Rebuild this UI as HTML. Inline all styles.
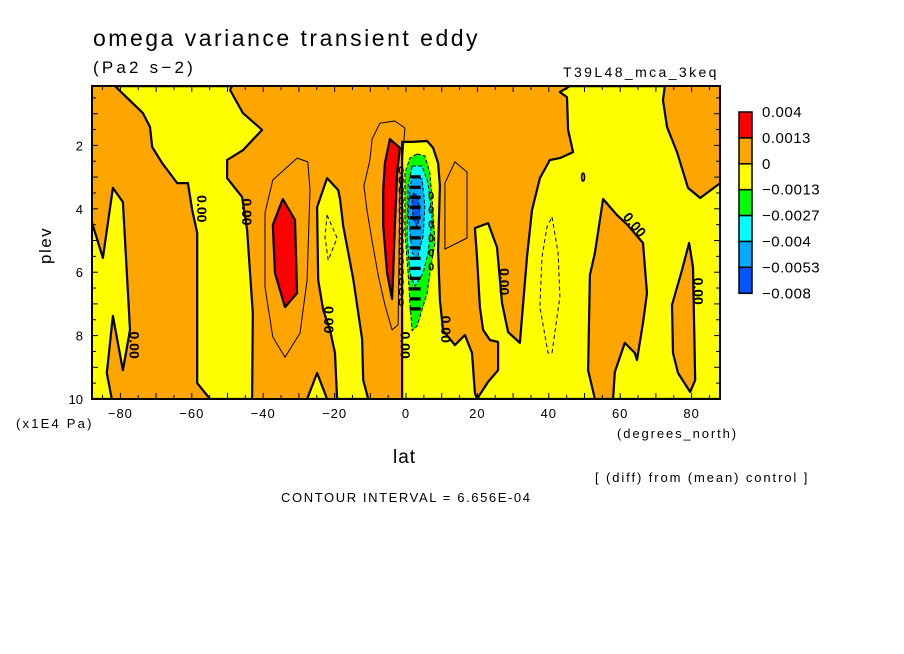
<!DOCTYPE html>
<html><head><meta charset="utf-8">
<style>
html,body{margin:0;padding:0;background:#fff;}
svg{display:block;font-family:"Liberation Sans",sans-serif;}
</style></head>
<body>
<svg id="chart" width="904" height="654" viewBox="0 0 904 654" xmlns="http://www.w3.org/2000/svg">
<text x="93" y="46" font-size="23" letter-spacing="2.5">omega variance transient eddy</text>
<text x="93" y="73" font-size="17" letter-spacing="3.2">(Pa2 s−2)</text>
<text x="563" y="77" font-size="14" letter-spacing="2.4">T39L48_mca_3keq</text>
<g id="plot"></g>
<g id="legend"></g>
<text x="393" y="463" font-size="19" letter-spacing="1">lat</text>
<text transform="translate(51,264) rotate(-90)" font-size="17" letter-spacing="1.5">plev</text>
<text x="16" y="428" font-size="13" letter-spacing="2.2">(x1E4 Pa)</text>
<text x="617" y="438" font-size="13" letter-spacing="1.9">(degrees_north)</text>
<text x="595" y="482" font-size="13" letter-spacing="1.9">[ (diff) from (mean) control ]</text>
<text x="281" y="502" font-size="13" letter-spacing="1.6">CONTOUR INTERVAL = 6.656E-04</text>
</svg>
<script>
const xTicks=[-80,-60,-40,-20,0,20,40,60,80];
const yTicks=[2,4,6,8,10];
const legendLevels=["0.004","0.0013","0","−0.0013","−0.0027","−0.004","−0.0053","−0.008"];
const legendColors=["#ff0000","#ffa500","#ffff00","#00ff00","#00ffff","#00aaff","#0055ff"];
// contour regions in (lat, plev)
const yellowA=[[-81.5,0.13],[-73.7,0.98],[-71.7,1.42],[-71.1,2.05],[-68.3,2.56],[-64.1,3.19],[-61.1,3.19],[-59.9,4.04],[-58.5,4.76],[-58.5,9.5],[-54.9,10],[-43.1,10],[-42.9,7.29],[-44.5,4.67],[-45.9,3.63],[-50.1,3.03],[-50.1,2.46],[-45.7,2.15],[-40.3,1.51],[-45.7,0.98],[-49.3,0.25],[-48.7,0.13]];
const yellowB=[[-88,4.42],[-84.9,5.55],[-82.1,3.34],[-79.3,3.79],[-77.3,7.82],[-79.3,9.09],[-82.1,7.38],[-83.8,9.18],[-82.4,10],[-88,10]];
const yellowTri=[[-27.7,10],[-24.9,9.18],[-22.1,10]];
const yellowC=[[-22.1,3.03],[-19,3.41],[-18.5,3.69],[-17.6,4.54],[-14.8,6.21],[-12.3,8.11],[-12,9.4],[-10.6,10],[-19.3,10],[-19.9,8.55],[-21.3,7.82],[-23.2,7.19],[-24.6,6.25],[-24.9,3.95]];
const yellowD=[[-1.1,1.89],[1.7,1.89],[5.9,1.86],[7.6,2.08],[9,2.56],[9.5,3.28],[9,5.3],[9.5,6.88],[10.4,7.85],[13.7,8.3],[16.5,7.98],[18.5,8.55],[19.3,9.81],[19.9,10],[23,9.46],[25.8,9.09],[25.8,8.2],[23.5,8.14],[21.6,7.82],[20.7,7.1],[19.9,5.52],[19.3,4.61],[23,4.45],[25.5,5.21],[26.9,6.97],[28.6,7.89],[31.9,8.23],[33.9,5.52],[35.3,4.04],[37.5,3.03],[40.3,2.46],[43.1,2.4],[46.8,2.21],[45.4,1.51],[45.1,0.48],[43.1,0.32],[45.9,0.13],[72.5,0.13],[72,0.57],[73.1,1.42],[75.9,2.21],[79,3.34],[82.4,3.66],[88,3.19],[88,10],[-1.1,10]];
const orange60=[[55.2,3.69],[59.1,4.2],[62,4.5],[66.4,5.08],[67.5,6.66],[66.4,7.6],[64.7,8.77],[64.1,8.55],[61.3,8.23],[58.5,9.15],[58,10],[52.9,10],[51,9.09],[51.5,6.09],[52.9,5.39]];
const orange80=[[79.3,5.08],[80.4,5.84],[81,9.4],[79.6,9.78],[76.2,9.18],[74.8,8.55],[74.5,7.03],[77.3,5.93]];
const dashed40=[[40.9,4.26],[42.6,5.39],[43.1,6.78],[40.9,8.55],[39.8,8.55],[37.5,7.1],[38.1,5.52],[39.5,4.57]];
const redLeft=[[-34.5,3.69],[-31.1,4.35],[-30.5,6.66],[-33.9,7.1],[-36.7,6.03],[-37.3,4.51]];
const thinLeft=[[-30.5,2.4],[-27.5,2.52],[-26.9,3.41],[-27.7,6.25],[-29.7,7.92],[-33.9,8.68],[-37.3,8.04],[-39.5,6.47],[-39.5,4.13],[-37.3,3.09]];
const dashedM20=[[-22.1,4.2],[-19.3,4.92],[-21.8,5.62],[-22.7,4.89]];
const redCenter=[[-4.5,1.8],[-1.7,2.08],[-2.5,2.87],[-3.1,4.51],[-3.6,6.09],[-3.9,6.85],[-5.3,6.03],[-6.4,4.54],[-6.4,3.41],[-5.9,2.56]];
const thinCenter=[[-0.3,1.45],[-3.1,1.23],[-7.3,1.3],[-9.5,1.8],[-10.1,2.46],[-11.8,3.28],[-10.9,4.07],[-9.5,5.02],[-7.8,6.09],[-5.9,7.03],[-3.9,7.82],[-2.2,7.66],[-1.7,3.5]];
const thinRight=[[13.7,2.52],[17.1,2.84],[17.1,4.92],[14.3,5.08],[10.9,5.27],[10.9,3.19]];
const greenR=[[3.1,2.27],[5.3,2.33],[6.7,2.87],[7.6,4.13],[8.1,5.08],[6.7,6.03],[5.9,6.66],[3.1,7.7],[1.7,7.85],[1.1,6.97],[0.6,6.03],[-0.3,4.76],[-0.3,2.87],[1.1,2.4]];
const cyanR=[[1.7,2.65],[4.5,2.65],[6.2,3.19],[7.3,4.32],[6.2,5.39],[4.8,6.03],[2.5,6.44],[1.1,6.03],[0.3,4.86],[0.6,3.28]];
const blueR=[[2,2.97],[4.5,3.06],[5.3,3.91],[4.8,4.86],[3.1,5.59],[1.7,5.39],[0.6,4.13],[1.1,3.28]];
const dblueR=[[2,3.5],[3.4,3.6],[3.9,4.23],[3.1,4.55],[2,4.32],[1.7,3.82]];
const labelPos=[[-58.6,4.0,90],[-45.9,4.1,90],[-77.5,8.3,90],[-23,7.5,90],[26.2,6.3,90],[63,4.6,50],[80.5,6.6,90],[-1.5,8.3,90],[9.8,7.8,90]];

const NS="http://www.w3.org/2000/svg";
const L=92,R=720,T=86,B=399;
function x(lat){return 406+lat*3.57;}
function y(p){return B-(10-p)*31.7;}
const plot=document.getElementById('plot');
function mk(tag,attrs,parent){const e=document.createElementNS(NS,tag);for(const k in attrs)e.setAttribute(k,attrs[k]);(parent||plot).appendChild(e);return e;}
function pts(a){return a.map(p=>x(p[0]).toFixed(1)+','+y(p[1]).toFixed(1)).join(' ');}
function poly(a,fill,sw,dash,name){
  const e=mk('polygon',{points:pts(a),fill:fill,stroke:'#000','stroke-width':sw,'stroke-linejoin':'round'});
  if(dash)e.setAttribute('stroke-dasharray',dash);
  
  
  return e;
}
const bg=mk('rect',{x:L,y:T,width:R-L,height:B-T,fill:'#ffa500'});


const cp=mk('clipPath',{id:'cp'});mk('rect',{x:L,y:T,width:R-L,height:B-T},cp);
const g=mk('g',{'clip-path':'url(#cp)'});
function P(a,fill,sw,dash,name){const e=poly(a,fill,sw,dash,name);g.appendChild(e);return e;}
P(yellowA,'#ffff00',2.2,null,'yellow-region-60s');
P(yellowB,'#ffff00',2.2,null,'yellow-region-80s');
P(yellowTri,'#ffff00',2.2,null,'yellow-region-small');
P(yellowC,'#ffff00',2.2,null,'yellow-region-20s');
P(yellowD,'#ffff00',2.2,null,'yellow-region-east');
P(orange60,'#ffa500',2.2,null,'orange-region-60n');
P(orange80,'#ffa500',2.2,null,'orange-region-80n');
P(dashed40,'none',1,'4,3','dashed-contour-40n');
P(thinLeft,'none',1,null,'thin-contour-35s');
P(redLeft,'#ff0000',2.2,null,'red-region-35s');
P(dashedM20,'none',1,'4,3','dashed-contour-20s');
P(thinCenter,'none',1,null,'thin-contour-5s');
P(redCenter,'#ff0000',2.2,null,'red-region-5s');
P(thinRight,'none',1,null,'thin-contour-15n');
P(greenR,'#00ff00',1,'4,2','green-region');
P(cyanR,'#00ffff',1,'4,2','cyan-region');
P(blueR,'#00aaff',1,'4,2','lightblue-region');
P(dblueR,'#0055ff',1,'4,2','blue-region');
const spot=mk('ellipse',{cx:x(49.6),cy:y(3.0),rx:1.5,ry:4,fill:'#ffa500',stroke:'#000','stroke-width':1.5},g);


// dense contour clutter in the core
for(let i=0;i<14;i++){
  const p=2.9+i*0.32;
  const t=mk('text',{x:x(-2.2),y:y(p),'font-size':11,'font-weight':'bold'},g);t.textContent='0';
  
  
  const t2=mk('text',{x:x(1.0),y:y(p+0.15),'font-size':11,'font-weight':'bold'},g);t2.textContent='▬';
  
  
}
for(let i=0;i<6;i++){
  const t=mk('text',{x:x(6.2),y:y(3.7+i*0.45),'font-size':11,'font-weight':'bold'},g);t.textContent='0';
  
  
}
labelPos.forEach(l=>{
  const t=mk('text',{transform:`translate(${x(l[0])},${y(l[1])}) rotate(${l[2]})`,'font-size':14,'font-weight':'bold','text-anchor':'middle'},g);
  t.textContent='0.00';
  
  
});
// frame
const fr=mk('rect',{x:L,y:T,width:R-L,height:B-T,fill:'none',stroke:'#000','stroke-width':2});


// ticks
for(let lat=-85;lat<=85;lat+=5){
  const len=(lat%10===0)?6:4;
  mk('line',{x1:x(lat),x2:x(lat),y1:B,y2:B-len,stroke:'#000','stroke-width':1});
  mk('line',{x1:x(lat),x2:x(lat),y1:T,y2:T+len,stroke:'#000','stroke-width':1});
}
for(let p=0.5;p<10;p+=0.5){
  const len=(p%1===0)?6:4;
  mk('line',{x1:L,x2:L+len,y1:y(p),y2:y(p),stroke:'#000','stroke-width':1});
  mk('line',{x1:R,x2:R-len,y1:y(p),y2:y(p),stroke:'#000','stroke-width':1});
}
xTicks.forEach(v=>{
  const t=mk('text',{x:x(v),y:B+19,'font-size':13,'text-anchor':'middle','letter-spacing':1});
  t.textContent=v<0?'−'+(-v):String(v);
  
  
});
yTicks.forEach(v=>{
  const t=mk('text',{x:L-9,y:y(v)+5,'font-size':13,'text-anchor':'end'});
  t.textContent=String(v);
  
  
});
// legend
const lg=document.getElementById('legend');
const boxH=25.9;
legendColors.forEach((c,i)=>{
  const r=mk('rect',{x:739,y:112+i*boxH,width:13,height:boxH,fill:c,stroke:'#000','stroke-width':1.5},lg);
  
  
});
legendLevels.forEach((s,i)=>{
  const t=mk('text',{x:762,y:112+i*boxH+5,'font-size':15,'letter-spacing':0.5},lg);
  t.textContent=s;
  
  
});
</script>
</body></html>
